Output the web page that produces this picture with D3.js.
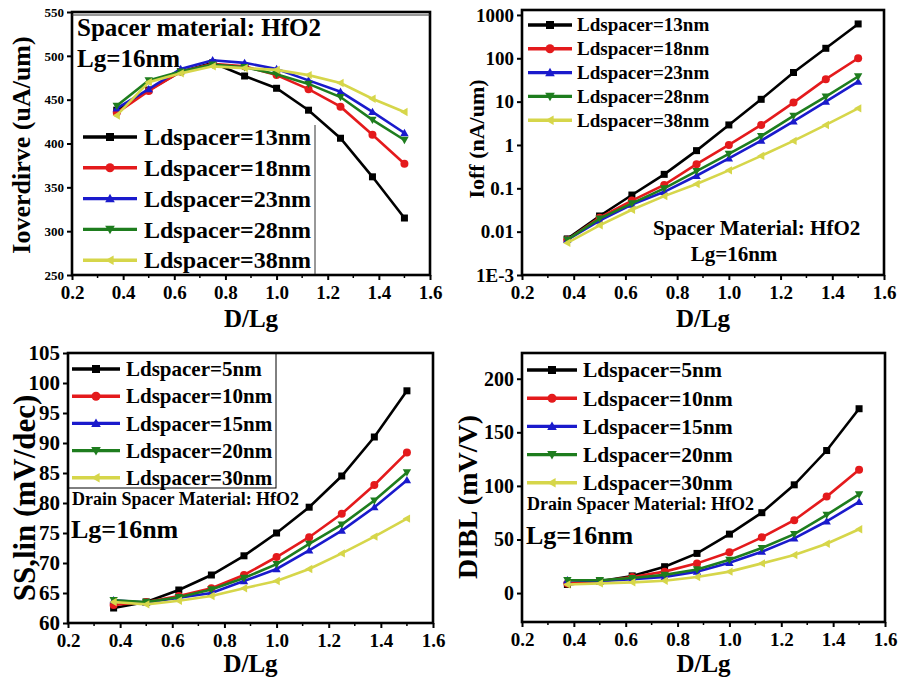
<!DOCTYPE html>
<html><head><meta charset="utf-8">
<script src="https://cdn.jsdelivr.net/npm/d3@7"></script>
<style>body{margin:0;background:#fff}svg{display:block}text{font-family:"Liberation Serif","DejaVu Serif",serif;font-weight:bold}</style>
</head><body><svg id="c" width="898" height="682"></svg>
<script>
const xVals = [0.375,0.5,0.625,0.75,0.875,1.0,1.125,1.25,1.375,1.5];
const xTicks = [0.2,0.4,0.6,0.8,1.0,1.2,1.4,1.6];
const colors = ["#000000","#e41a1c","#1a1acc","#1e7d1e","#d6d64a"];
const symbols = ["square","circle","triUp","triDown","triLeft"];

// Panel 1: Ioverdrive
const p1Labels = ["Ldspacer=13nm","Ldspacer=18nm","Ldspacer=23nm","Ldspacer=28nm","Ldspacer=38nm"];
const p1Ticks = [250,300,350,400,450,500,550];
const p1_13 = [438,461,482,492,477,463,438,406,362,315];
const p1_18 = [435,460,482,491,488,478,462,442,410,377];
const p1_23 = [440,462,485,495,492,485,472,459,436,412];
const p1_28 = [443,472,482,490,487,479,468,453,427,404];
const p1_38 = [432,470,480,488,486,484,478,469,451,436];

// Panel 2: Ioff (log)
const p2Labels = ["Ldspacer=13nm","Ldspacer=18nm","Ldspacer=23nm","Ldspacer=28nm","Ldspacer=38nm"];
const p2Ticks = [0.001,0.01,0.1,1,10,100,1000];
const p2TickLabels = ["1E-3","0.01","0.1","1","10","100","1000"];
const p2_13 = [0.0068,0.023,0.07,0.21,0.74,2.9,11.3,47,170,620];
const p2_18 = [0.0065,0.021,0.052,0.12,0.36,1.0,2.9,9.5,33,100];
const p2_23 = [0.0065,0.018,0.042,0.083,0.195,0.49,1.26,3.5,10,29];
const p2_28 = [0.0065,0.02,0.045,0.1,0.25,0.62,1.6,4.7,13,38];
const p2_38 = [0.0055,0.014,0.032,0.066,0.126,0.26,0.56,1.24,2.9,7];

// Panel 3: SS,lin
const p3Labels = ["Ldspacer=5nm","Ldspacer=10nm","Ldspacer=15nm","Ldspacer=20nm","Ldspacer=30nm"];
const p3Ticks = [60,65,70,75,80,85,90,95,100,105];
const p3_5 = [62.5,63.5,65.5,68.0,71.2,75.0,79.3,84.5,91.0,98.7];
const p3_10 = [63.0,63.5,64.5,65.8,68.0,71.0,74.3,78.2,83.0,88.4];
const p3_15 = [63.8,63.4,64.2,65.0,67.0,69.0,72.1,75.4,79.3,83.8];
const p3_20 = [63.8,63.5,64.3,65.6,67.5,69.8,73.2,76.4,80.4,85.1];
const p3_30 = [63.5,63.1,63.7,64.5,65.8,67.0,69.0,71.6,74.4,77.4];

// Panel 4: DIBL
const p4Labels = ["Ldspacer=5nm","Ldspacer=10nm","Ldspacer=15nm","Ldspacer=20nm","Ldspacer=30nm"];
const p4Ticks = [0,50,100,150,200];
const p4_5 = [8,11,16,24.6,37,55,75,101,133,172];
const p4_10 = [9,11,15,20,27.7,38,52,68,90,115];
const p4_15 = [12,11,13,15,20,28.3,38.6,51,67,85];
const p4_20 = [12,12,14,17,22,31,42,55,73,92];
const p4_30 = [8,9,10,11.5,15,20,27.7,35.5,46,59.5];

const svg = d3.select("#c");

function marker(g, sym, x, y, color, s) {
  let path;
  const h = s;
  if (sym === "square") { g.append("rect").attr("x",x-s/2).attr("y",y-s/2).attr("width",s).attr("height",s).attr("fill",color); return; }
  if (sym === "circle") { g.append("circle").attr("cx",x).attr("cy",y).attr("r",s/2+0.5).attr("fill",color); return; }
  if (sym === "triUp") path = `M${x},${y-h*0.6}L${x+h*0.6},${y+h*0.45}L${x-h*0.6},${y+h*0.45}Z`;
  if (sym === "triDown") path = `M${x},${y+h*0.6}L${x+h*0.6},${y-h*0.45}L${x-h*0.6},${y-h*0.45}Z`;
  if (sym === "triLeft") path = `M${x-h*0.6},${y}L${x+h*0.45},${y-h*0.6}L${x+h*0.45},${y+h*0.6}Z`;
  g.append("path").attr("d",path).attr("fill",color);
}

function panel(cfg) {
  const g = svg.append("g");
  const x = d3.scaleLinear().domain([0.2,1.6]).range([cfg.left,cfg.right]);
  const y = cfg.y;
  // series
  const line = d3.line().x((d,i)=>x(xVals[i])).y(d=>y(d));
  cfg.series.forEach((s,k)=>{
    g.append("path").attr("d",line(s)).attr("fill","none").attr("stroke",colors[k]).attr("stroke-width",cfg.lw||2.6);
    s.forEach((v,i)=>marker(g,symbols[k],x(xVals[i]),y(v),colors[k],cfg.ms||7));
  });
  // axes
  const xa = g.append("g").attr("transform",`translate(0,${cfg.bottom})`)
    .call(d3.axisBottom(x).tickValues(xTicks).tickFormat(d3.format(".1f")).tickSizeInner(5).tickSizeOuter(0).tickPadding(6));
  xa.select(".domain").remove();
  xa.selectAll("line").attr("stroke-width",2);
  xa.selectAll("text").attr("font-size",cfg.xfs||19).attr("fill","#000").attr("font-family","Liberation Serif").attr("font-weight","bold");
  const minors = d3.range(0.3,1.6,0.2);
  g.selectAll(null).data(minors).enter().append("line")
    .attr("x1",d=>x(d)).attr("x2",d=>x(d)).attr("y1",cfg.bottom).attr("y2",cfg.bottom+3).attr("stroke","#000").attr("stroke-width",1.5);
  const ya = g.append("g").attr("transform",`translate(${cfg.left},0)`)
    .call(d3.axisLeft(y).tickValues(cfg.yTicks).tickFormat((d,i)=>cfg.yTickLabels?cfg.yTickLabels[i]:d).tickSizeInner(5).tickSizeOuter(0).tickPadding(3));
  ya.select(".domain").remove();
  ya.selectAll("line").attr("stroke-width",2);
  ya.selectAll("text").attr("font-size",cfg.yfs).attr("fill","#000").attr("font-family","Liberation Serif").attr("font-weight","bold");
  // frame
  g.append("rect").attr("x",cfg.left).attr("y",cfg.top).attr("width",cfg.right-cfg.left).attr("height",cfg.bottom-cfg.top)
    .attr("fill","none").attr("stroke","#000").attr("stroke-width",2.6);
  // axis labels
  g.append("text").attr("x",(cfg.left+cfg.right)/2).attr("y",cfg.xlabY).attr("text-anchor","middle").attr("font-size",25).text("D/Lg");
  g.append("text").attr("transform",`translate(${cfg.ylabX},${cfg.ylabY}) rotate(-90)`).attr("text-anchor","middle")
    .attr("font-size",cfg.ylabFs).text(cfg.ylab);
  // legend
  const L = cfg.legend;
  cfg.labels.forEach((lab,k)=>{
    const yy = L.y + k*L.dy;
    g.append("line").attr("x1",L.x1).attr("x2",L.x2).attr("y1",yy).attr("y2",yy).attr("stroke",colors[k]).attr("stroke-width",cfg.lw? cfg.lw+0.8:3.4);
    marker(g,symbols[k],(L.x1+L.x2)/2,yy,colors[k],(cfg.ms||7)+1);
    g.append("text").attr("x",L.tx).attr("y",yy).attr("dy","0.34em").attr("font-size",L.fs).text(lab);
  });
  (cfg.notes||[]).forEach(n=>{
    g.append("text").attr("x",n.x).attr("y",n.y).attr("font-size",n.fs).attr("text-anchor",n.anchor||"start").text(n.t);
  });
  return g;
}

// Panel 1
const g1 = panel({left:72,right:430,top:12,bottom:275,
  y:d3.scaleLinear().domain([250,550]).range([275,12]), yTicks:p1Ticks, yfs:13,
  series:[p1_13,p1_18,p1_23,p1_28,p1_38], labels:p1Labels,
  xlabY:327, ylab:"Ioverdirve (uA/um)", ylabX:30, ylabY:145, ylabFs:26,
  legend:{x1:83,x2:137,tx:144,y:137,dy:30.8,fs:24},
  notes:[{x:77,y:36,fs:25,t:"Spacer material: HfO2"},{x:77,y:67,fs:25,t:"Lg=16nm"}]});
g1.append("line").attr("x1",315).attr("x2",315).attr("y1",125).attr("y2",274).attr("stroke","#333").attr("stroke-width",1);
g1.append("line").attr("x1",72).attr("x2",430).attr("y1",15).attr("y2",15).attr("stroke","#333").attr("stroke-width",1);

// Panel 2
panel({left:522,right:884,top:10,bottom:275,
  y:d3.scaleLog().domain([0.001,1300]).range([275,10]), yTicks:p2Ticks, yTickLabels:p2TickLabels, yfs:19,
  series:[p2_13,p2_18,p2_23,p2_28,p2_38], labels:p2Labels,
  xlabY:327, ylab:"Ioff (nA/um)", ylabX:484, ylabY:139, ylabFs:22,
  legend:{x1:528,x2:572,tx:577,y:25,dy:23.8,fs:19},
  notes:[{x:653,y:235,fs:21,t:"Spacer Material: HfO2"},{x:734,y:261,fs:21,anchor:"middle",t:"Lg=16nm"}]});

// Panel 3
const g3 = panel({left:68,right:433,top:353,bottom:623,
  y:d3.scaleLinear().domain([60,105]).range([623,353]), yTicks:p3Ticks, yfs:21,
  series:[p3_5,p3_10,p3_15,p3_20,p3_30], labels:p3Labels,
  xlabY:672, ylab:"SS,lin (mV/dec)", ylabX:35, ylabY:498, ylabFs:31,
  legend:{x1:72,x2:120,tx:126,y:369,dy:27.2,fs:21},
  notes:[{x:72,y:505,fs:18,t:"Drain Spacer Material: HfO2"},{x:71,y:538,fs:26,t:"Lg=16nm"}]});
g3.append("rect").attr("x",68).attr("y",353).attr("width",208).attr("height",135).attr("fill","none").attr("stroke","#000").attr("stroke-width",1);

// Panel 4
panel({left:522,right:885,top:353,bottom:622,
  y:d3.scaleLinear().domain([-27,224]).range([622,353]), yTicks:p4Ticks, yfs:20,
  series:[p4_5,p4_10,p4_15,p4_20,p4_30], labels:p4Labels,
  xlabY:672, ylab:"DIBL (mV/V)", ylabX:477, ylabY:497, ylabFs:28,
  legend:{x1:527,x2:577,tx:583,y:370,dy:28.2,fs:21.5},
  notes:[{x:527,y:510,fs:18,t:"Drain Spacer Material: HfO2"},{x:526,y:544,fs:26,t:"Lg=16nm"}]});
</script></body></html>
